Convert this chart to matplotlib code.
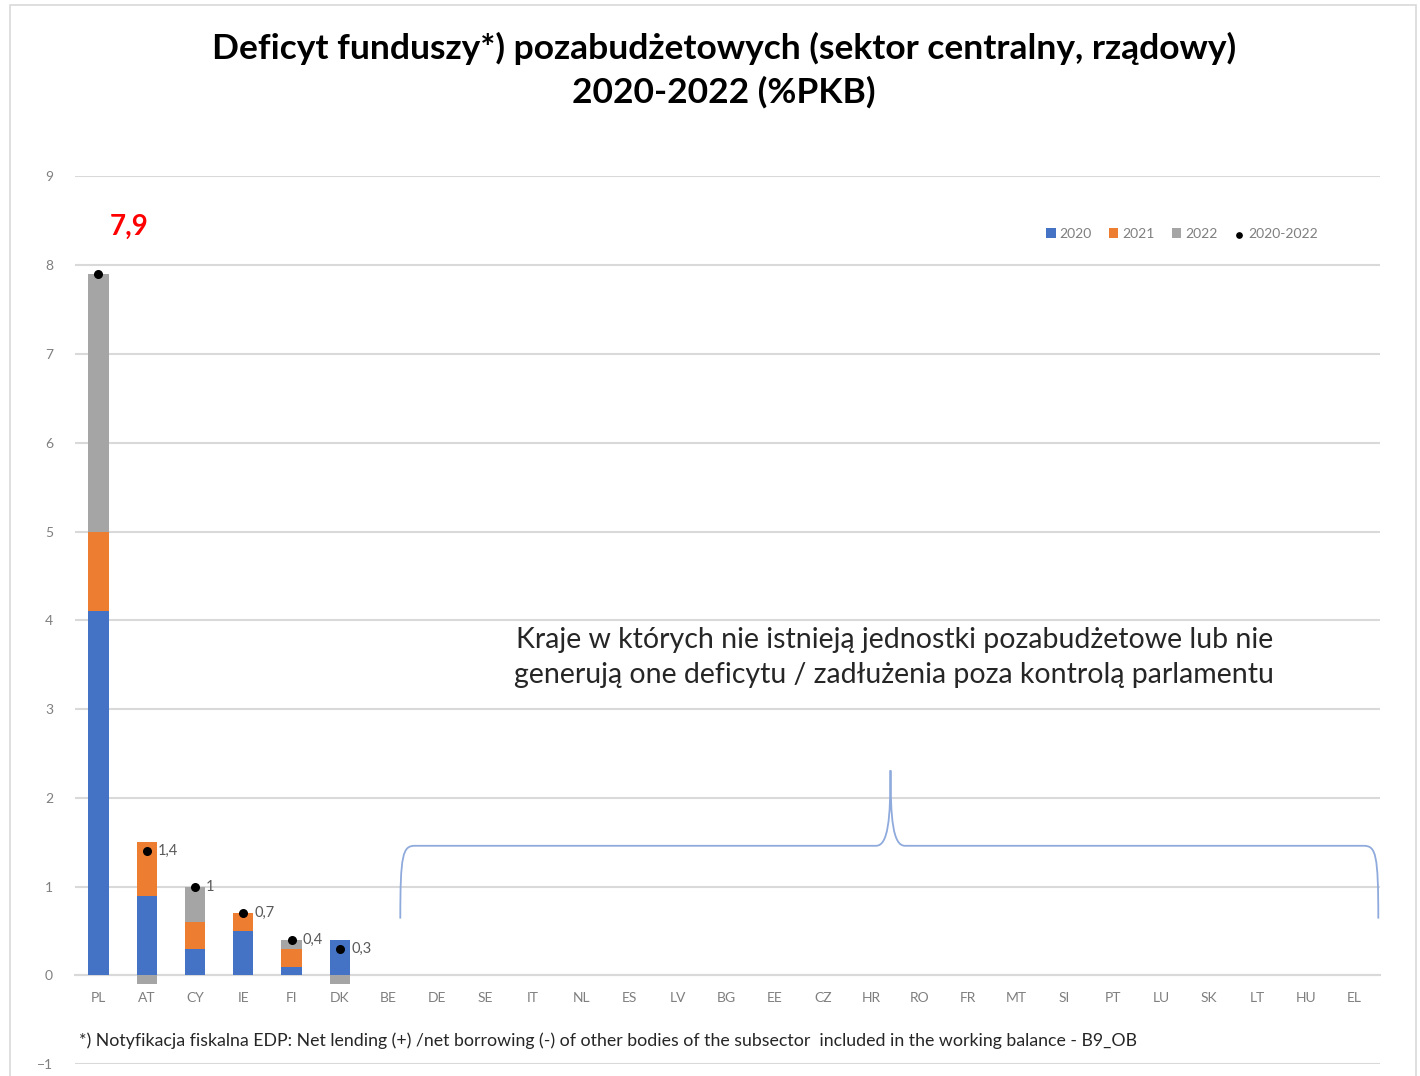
import matplotlib
matplotlib.use("Agg")
import matplotlib.pyplot as plt
import numpy as np
from matplotlib.path import Path
from matplotlib.patches import PathPatch, Rectangle

plt.rcParams['font.family'] = ['Lato', 'DejaVu Sans']

categories = ["PL", "AT", "CY", "IE", "FI", "DK", "BE", "DE", "SE", "IT", "NL", "ES", "LV", "BG",
              "EE", "CZ", "HR", "RO", "FR", "MT", "SI", "PT", "LU", "SK", "LT", "HU", "EL"]
v2020 = [4.1, 0.9, 0.3, 0.5, 0.1, 0.4] + [0] * 21
v2021 = [0.9, 0.6, 0.3, 0.2, 0.2, 0.0] + [0] * 21
v2022 = [2.9, -0.1, 0.4, 0.0, 0.1, -0.1] + [0] * 21
total = [7.9, 1.4, 1.0, 0.7, 0.4, 0.3]
total_labels = ["7,9", "1,4", "1", "0,7", "0,4", "0,3"]
series_names = ["2020", "2021", "2022"]
colors = ["#4472C4", "#ED7D31", "#A5A5A5"]

fig = plt.figure(figsize=(14.2, 10.76), dpi=100)
ax = fig.add_axes([0.053, 0.011, 0.919, 0.825])

x = np.arange(len(categories))
pos_bottom = np.zeros(len(categories))
neg_bottom = np.zeros(len(categories))
handles = []
for name, vals, c in zip(series_names, [v2020, v2021, v2022], colors):
    vals = np.array(vals, dtype=float)
    bottom = np.where(vals >= 0, pos_bottom, neg_bottom)
    h = ax.bar(x, vals, bottom=bottom, width=0.42, color=c, label=name, zorder=3)
    handles.append(h)
    pos_bottom += np.where(vals >= 0, vals, 0)
    neg_bottom += np.where(vals < 0, vals, 0)

xt = np.arange(len(total))
hs = ax.scatter(xt, total, color="black", s=30, zorder=5, label="2020-2022")
handles.append(hs)
for i, (xi, t, lab) in enumerate(zip(xt, total, total_labels)):
    if i == 0:
        continue
    ax.annotate(lab, (xi, t), xytext=(8, 0), textcoords="offset points",
                va="center", ha="left", fontsize=10.5, color="#595959")
ax.annotate(total_labels[0], (xt[0], total[0]), xytext=(22, 34), textcoords="offset points",
            ha="center", va="center", fontsize=20, color="red", fontweight="bold")

ax.set_xlim(-0.48, 26.54)
ax.set_ylim(-1, 9)
ax.set_yticks(range(-1, 10))
ax.set_xticks(x)
ax.set_xticklabels(categories)
ax.spines['bottom'].set_position(('data', 0))
for s in ['top', 'right', 'left']:
    ax.spines[s].set_visible(False)
ax.spines['bottom'].set_color("#D9D9D9")
ax.spines['bottom'].set_linewidth(1.5)
ax.tick_params(axis='both', length=0, labelsize=10, labelcolor="#7F7F7F")
ax.tick_params(axis='x', pad=12)
ax.tick_params(axis='y', pad=16)
ax.grid(axis='y', color="#D9D9D9", linewidth=1.5, zorder=0)
ax.set_axisbelow(True)

leg = ax.legend(handles, series_names + ["2020-2022"], loc="center right",
                bbox_to_anchor=(0.962, 0.935), ncol=4, frameon=False,
                fontsize=10, handlelength=0.7, handleheight=0.7, handletextpad=0.3,
                columnspacing=1.2, markerscale=0.7)
for t in leg.get_texts():
    t.set_color("#7F7F7F")

# brace
xl, xr, xm = 6.25, 26.5, 16.4
yt, yb, yp = 1.46, 0.64, 2.31
verts = [(xl, yb), (xl, yt - 0.1), (xl + 0.05, yt), (xl + 0.3, yt),
         (xm - 0.3, yt), (xm - 0.05, yt), (xm, yt + 0.3), (xm, yp),
         (xm, yt + 0.3), (xm + 0.05, yt), (xm + 0.3, yt),
         (xr - 0.3, yt), (xr - 0.05, yt), (xr, yt - 0.1), (xr, yb)]
codes = [Path.MOVETO, Path.CURVE4, Path.CURVE4, Path.CURVE4,
         Path.LINETO, Path.CURVE4, Path.CURVE4, Path.CURVE4,
         Path.CURVE4, Path.CURVE4, Path.CURVE4,
         Path.LINETO, Path.CURVE4, Path.CURVE4, Path.CURVE4]
ax.add_patch(PathPatch(Path(verts, codes), fill=False, edgecolor="#8FAADC", linewidth=1.3, zorder=4))

ax.text(16.48, 3.58, "Kraje w których nie istnieją jednostki pozabudżetowe lub nie\n"
        "generują one deficytu / zadłużenia poza kontrolą parlamentu",
        ha="center", va="center", fontsize=20.5, color="#262626", linespacing=1.45)

ax.text(-0.4, -0.74, "*) Notyfikacja fiskalna EDP: Net lending (+) /net borrowing (-) of other bodies "
        "of the subsector  included in the working balance - B9_OB",
        ha="left", va="center", fontsize=12.8, color="#262626")

fig.text(0.51, 0.935, "Deficyt funduszy*) pozabudżetowych (sektor centralny, rządowy)\n2020-2022 (%PKB)",
         ha="center", va="center", fontsize=25.5, fontweight="bold", color="black", linespacing=1.4)

fig.patches.append(Rectangle((0.007, -0.01), 0.99, 1.005, transform=fig.transFigure,
                             fill=False, edgecolor="#D9D9D9", linewidth=1.2))

fig.savefig("out.png", dpi=100)
